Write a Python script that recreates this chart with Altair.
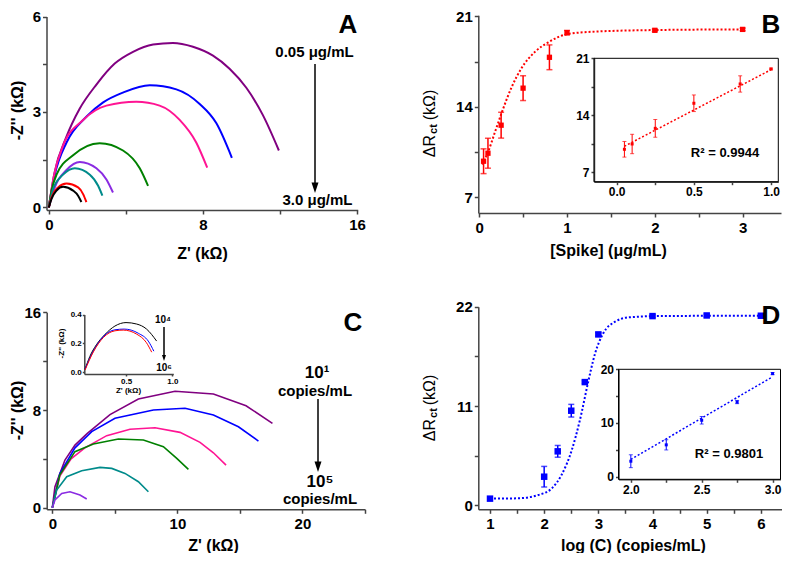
import altair as alt
import pandas as pd

# ================= DATA =================
# Panel A : Nyquist curves, 0.05 -> 3.0 ug/mL (Z' , -Z'' in kOhm)
A_names = ["a1", "a2", "a3", "a4", "a5", "a6", "a7", "a8"]
A_colors = ["#800080", "#0000FF", "#FF1493", "#008000", "#8A2BE2", "#008B8B", "#FF0000", "#000000"]
A1_x = [0, 0.3, 0.9, 1.6, 2.47, 3.42, 4.37, 5.41, 6.44, 7.48, 8.52, 9.38, 10.25, 11.11, 11.94]
A1_y = [0, 1.1, 2.2, 3.1, 3.86, 4.52, 4.89, 5.12, 5.17, 5.05, 4.77, 4.36, 3.76, 2.90, 1.79]
A2_x = [0, 0.3, 0.92, 1.95, 2.82, 3.85, 5.24, 6.62, 7.83, 8.69, 9.5]
A2_y = [0, 1.0, 2.04, 2.85, 3.3, 3.61, 3.84, 3.71, 3.25, 2.65, 1.56]
A3_x = [0, 0.25, 0.74, 1.78, 2.99, 4.54, 5.75, 6.79, 7.65, 8.22]
A3_y = [0, 0.95, 1.94, 2.75, 3.2, 3.32, 3.2, 2.75, 2.04, 1.25]
A4_x = [0, 0.15, 0.4, 1.26, 2.64, 3.85, 4.72, 5.15]
A4_y = [0, 0.55, 1.03, 1.64, 2.02, 1.79, 1.23, 0.68]
A5_x = [0, 0.31, 0.92, 1.61, 2.47, 2.99, 3.33]
A5_y = [0, 0.63, 1.18, 1.43, 1.23, 0.88, 0.47]
A6_x = [0, 0.22, 0.74, 1.35, 2.13, 2.56, 2.78]
A6_y = [0, 0.58, 1.03, 1.23, 1.03, 0.68, 0.37]
A7_x = [0, 0.14, 0.48, 0.92, 1.52, 1.78, 1.95]
A7_y = [0, 0.32, 0.63, 0.75, 0.63, 0.42, 0.17]
A8_x = [0, 0.14, 0.4, 0.74, 1.26, 1.52, 1.69]
A8_y = [0, 0.27, 0.53, 0.65, 0.53, 0.37, 0.17]

# Panel B : delta Rct vs [Spike]
B_x = [0.05, 0.1, 0.25, 0.5, 0.8, 1.0, 2.0, 3.0]
B_y = [9.79, 10.41, 12.58, 15.45, 17.84, 19.75, 19.93, 20.0]
B_err = [0.96, 1.16, 1.0, 0.96, 0.96, 0.17, 0.1, 0.1]
B_fit_x = [0.034, 0.103, 0.179, 0.255, 0.369, 0.483, 0.635, 0.787, 1.0, 1.32, 2.0, 3.0]
B_fit_y = [9.54, 10.54, 12.03, 13.52, 15.52, 17.01, 18.26, 19.0, 19.63, 19.83, 19.95, 20.0]
# Panel B inset (linear range)
Bi_x = [0.05, 0.1, 0.25, 0.5, 0.8, 1.0]
Bi_y = [9.83, 10.48, 12.4, 15.48, 17.85, 19.69]
Bi_err = [0.96, 1.19, 1.09, 1.02, 1.0, 0.1]
Bi_fit_x = [0.05, 1.0]
Bi_fit_y = [10.2, 19.6]

# Panel C : Nyquist curves, 10^1 -> 10^5 copies/mL
C_names = ["c1", "c2", "c3", "c4", "c5", "c6"]
C_colors = ["#800080", "#0000FF", "#FF1493", "#008000", "#008B8B", "#8A2BE2"]
C1_x = [0, 0.21, 1.01, 1.81, 2.8, 4.61, 6.88, 9.81, 12.88, 15.49, 17.6]
C1_y = [0, 1.72, 3.9, 5.13, 6.09, 7.62, 8.9, 9.53, 9.31, 8.35, 6.91]
C2_x = [0, 0.6, 1.81, 3.15, 5.01, 8.08, 10.61, 12.88, 14.88, 16.48]
C2_y = [0, 2.8, 4.9, 6.23, 7.32, 8.0, 8.14, 7.59, 6.63, 5.46]
C3_x = [0, 0.6, 1.5, 2.6, 4.35, 6.21, 8.21, 10.21, 11.81, 12.88, 13.89]
C3_y = [0, 2.6, 4.0, 4.9, 5.9, 6.42, 6.55, 6.17, 5.35, 4.5, 3.49]
C4_x = [0, 0.6, 1.81, 3.28, 5.28, 7.28, 8.88, 9.95, 10.88]
C4_y = [0, 2.7, 4.59, 5.21, 5.62, 5.54, 5.0, 4.04, 3.14]
C5_x = [0, 0.35, 1.15, 2.35, 3.81, 4.75, 5.81, 6.88, 7.68]
C5_y = [0, 1.45, 2.54, 3.03, 3.3, 3.22, 2.81, 2.13, 1.31]
C6_x = [0, 0.21, 0.75, 1.41, 2.21, 2.75]
C6_y = [0, 0.63, 1.17, 1.31, 1.04, 0.71]
# Panel C inset : 10^4 -> 10^6
Ci_names = ["k1", "k2", "k3"]
Ci_colors = ["#000000", "#0000FF", "#FF0000"]
Ci1_x = [0.058, 0.11, 0.18, 0.27, 0.38, 0.5, 0.615, 0.72, 0.83]
Ci1_y = [0.021, 0.11, 0.19, 0.26, 0.32, 0.344, 0.334, 0.30, 0.216]
Ci2_x = [0.058, 0.147, 0.255, 0.38, 0.48, 0.633, 0.74, 0.80]
Ci2_y = [0.021, 0.146, 0.247, 0.294, 0.299, 0.27, 0.216, 0.146]
Ci3_x = [0.058, 0.147, 0.255, 0.38, 0.47, 0.615, 0.72, 0.777]
Ci3_y = [0.015, 0.14, 0.24, 0.287, 0.292, 0.264, 0.205, 0.139]

# Panel D : delta Rct vs log(C)
D_x = [1, 2, 2.25, 2.5, 2.75, 3, 4, 5, 6]
D_y = [0.74, 3.17, 5.98, 10.48, 13.65, 18.93, 20.96, 21.03, 21.0]
D_err = [0.1, 1.14, 0.65, 0.7, 0.15, 0.2, 0.15, 0.15, 0.1]
D_fit_x = [1, 1.52, 1.89, 2.14, 2.32, 2.51, 2.66, 2.82, 2.94, 3.09, 3.31, 3.56, 4.17, 6]
D_fit_y = [0.74, 0.78, 1.14, 1.88, 3.36, 6.13, 9.45, 13.88, 16.83, 19.05, 20.34, 20.82, 20.97, 21.0]
Di_x = [2.0, 2.25, 2.5, 2.75, 3.0]
Di_y = [2.87, 5.92, 10.5, 13.9, 19.2]
Di_err = [1.2, 0.95, 0.7, 0.3, 0.2]
Di_fit_x = [2.0, 3.0]
Di_fit_y = [3.2, 18.6]

# ================= LAYOUT HELPERS =================
OFF = 8
W, H = 774, 545
FONT = "Liberation Sans"
AXC = "#444444"


def cx(p):
    return p - OFF


def cy(p):
    return p - OFF


ONE = pd.DataFrame({"k": [0]})


def curves_df(names, xs, ys):
    rows = []
    for n, xx, yy in zip(names, xs, ys):
        for i, (a, b) in enumerate(zip(xx, yy)):
            rows.append({"s": n, "i": i, "x": a, "y": b})
    return pd.DataFrame(rows)


def pts_df(xs, ys, errs=None):
    d = pd.DataFrame({"x": xs, "y": ys})
    if errs is not None:
        d["lo"] = [y - e for y, e in zip(ys, errs)]
        d["hi"] = [y + e for y, e in zip(ys, errs)]
    return d


def caps_df(xs, ys, errs):
    rows = []
    for a, b, e in zip(xs, ys, errs):
        rows.append({"x": a, "y": b - e})
        rows.append({"x": a, "y": b + e})
    return pd.DataFrame(rows)


def base_axis(**kw):
    d = dict(grid=False, domainColor=AXC, domainWidth=1.5, tickColor=AXC, tickWidth=1.5,
             labelFont=FONT, labelFontWeight="bold", labelColor="black", labelFlush=False,
             labelOverlap=False, titleFont=FONT, titleFontWeight="bold", titleColor="black")
    d.update(kw)
    return alt.Axis(**d)


def x_axis(axis_y, values, expr, fs, pad, tick=4, title="", tpos=None, tfs=16):
    kw = dict(orient="bottom", offset=cy(axis_y) - H, values=values, labelExpr=expr,
              labelFontSize=fs, labelPadding=pad, tickSize=tick, title=title)
    if tpos:
        kw.update(titleX=cx(tpos[0]), titleY=tpos[1] - axis_y, titleAlign="center",
                  titleBaseline="middle", titleFontSize=tfs, titleAnchor="start")
    return base_axis(**kw)


def y_axis(axis_x, values, expr, fs, pad, tick=4, title="", tpos=None, tfs=16):
    kw = dict(orient="left", offset=-cx(axis_x), values=values, labelExpr=expr,
              labelFontSize=fs, labelPadding=pad, tickSize=tick, title=title)
    if tpos:
        kw.update(titleX=tpos[0] - axis_x, titleY=cy(tpos[1]), titleAlign="center",
                  titleBaseline="middle", titleFontSize=tfs, titleAngle=270, titleAnchor="start")
    return base_axis(**kw)


def scale(dom, rng):
    return alt.Scale(domain=dom, range=rng, nice=False, zero=False)


def label(text, x, y, size, weight="bold", angle=0):
    kw = dict(text=text, fontSize=size, fontWeight=weight, font=FONT, align="center",
              baseline="middle", color="black")
    if angle:
        kw["angle"] = angle
    return alt.Chart(ONE).mark_text(**kw).encode(x=alt.value(cx(x)), y=alt.value(cy(y)))


def arrow(x, y0, y1, w=7):
    hl = w * 1.5
    rule = alt.Chart(ONE).mark_rule(color="black", strokeWidth=1.5).encode(
        x=alt.value(cx(x)), y=alt.value(cy(y0)), y2=alt.value(cy(y1 - hl + 1)))
    head = alt.Chart(ONE).mark_point(shape="M-1,-3L1,-3L0,0Z", filled=True, color="black",
                                     opacity=1, size=w * w, strokeWidth=0).encode(
        x=alt.value(cx(x)), y=alt.value(cy(y1)))
    return [rule, head]


def frame(x0, x1, y0, y1):
    return alt.Chart(ONE).mark_rect(fillOpacity=0, stroke="black", strokeWidth=1).encode(
        x=alt.value(cx(x0)), x2=alt.value(cx(x1)), y=alt.value(cy(y0)), y2=alt.value(cy(y1)))


def xy_panel(X, Y, pts, fit, caps, psize, fitw, dash, color, capw, errw):
    fitc = alt.Chart(fit).mark_line(color=color, strokeWidth=fitw, strokeDash=dash,
                                    interpolate="monotone").encode(x=X("x"), y=Y("y"))
    rules = alt.Chart(pts).mark_rule(color=color, strokeWidth=errw).encode(
        x=X("x"), y=Y("lo"), y2=alt.Y2("hi:Q"))
    capc = alt.Chart(caps).mark_tick(color=color, orient="horizontal", size=capw,
                                     thickness=errw).encode(x=X("x"), y=Y("y"))
    pc = alt.Chart(pts).mark_square(color=color, size=psize, opacity=1).encode(x=X("x"), y=Y("y"))
    return alt.layer(fitc, rules, capc, pc)


def enc_factory(chan, sc, ax):
    def f(field):
        return chan(field + ":Q", scale=sc, axis=ax)
    return f


# ================= PANEL A =================
dfA = curves_df(A_names, [A1_x, A2_x, A3_x, A4_x, A5_x, A6_x, A7_x, A8_x],
                [A1_y, A2_y, A3_y, A4_y, A5_y, A6_y, A7_y, A8_y])
A_xs = scale([-0.12, 16.03], [cx(46.5), cx(357.7)])
A_ys = scale([-0.08, 6], [cy(210), cy(16.5)])
A_xa = x_axis(210, [0, 4, 8, 12, 16], "datum.value % 8 == 0 ? datum.value : ''", 15, 3,
              title="Z' (kΩ)", tpos=(202, 253))
A_ya = y_axis(46.5, [0, 1.5, 3, 4.5, 6], "datum.value % 3 == 0 ? datum.value : ''", 15, 2,
              title="-Z'' (kΩ)", tpos=(17, 110))
panelA = alt.Chart(dfA).mark_line(strokeWidth=2, interpolate="monotone").encode(
    x=alt.X("x:Q", scale=A_xs, axis=A_xa),
    y=alt.Y("y:Q", scale=A_ys, axis=A_ya),
    color=alt.Color("s:N", scale=alt.Scale(domain=A_names, range=A_colors), legend=None),
    order="i:Q",
)

# ================= PANEL B =================
B_X = enc_factory(alt.X, scale([-0.01, 3.437], [cx(478.3), cx(781)]),
                  x_axis(213, [0, 0.5, 1, 1.5, 2, 2.5, 3], "datum.value % 1 == 0 ? datum.value : ''",
                         15, 3, title="[Spike] (μg/mL)", tpos=(608, 250)))
B_Y = enc_factory(alt.Y, scale([5.78, 21.1], [cy(213), cy(15.2)]),
                  y_axis(478.3, [7, 10.5, 14, 17.5, 21], "datum.value % 7 == 0 ? datum.value : ''",
                         15, 2))
panelB = xy_panel(B_X, B_Y, pts_df(B_x, B_y, B_err), pts_df(B_fit_x, B_fit_y),
                  caps_df(B_x, B_y, B_err), 28, 2, [2, 2], "#FF0000", 6, 1.5)

Bi_X = enc_factory(alt.X, scale([-0.147, 1.047], [cx(594), cx(778.3)]),
                   x_axis(181.7, [0, 0.25, 0.5, 0.75, 1.0],
                          "datum.value % 0.5 == 0 ? format(datum.value, '.1f') : ''", 12, 2, tick=3))
Bi_Y = enc_factory(alt.Y, scale([5.85, 21], [cy(181.7), cy(58.3)]),
                   y_axis(594, [7, 10.5, 14, 17.5, 21], "datum.value % 7 == 0 ? datum.value : ''",
                          12, 2, tick=3))
panelBi = xy_panel(Bi_X, Bi_Y, pts_df(Bi_x, Bi_y, Bi_err), pts_df(Bi_fit_x, Bi_fit_y),
                   caps_df(Bi_x, Bi_y, Bi_err), 9, 1.5, [2, 2], "#FF0000", 4, 1)

# ================= PANEL C =================
dfC = curves_df(C_names, [C1_x, C2_x, C3_x, C4_x, C5_x, C6_x], [C1_y, C2_y, C3_y, C4_y, C5_y, C6_y])
C_xs = scale([-0.45, 25.0], [cx(46.7), cx(365)])
C_ys = scale([-0.13, 16], [cy(509.3), cy(312.3)])
C_xa = x_axis(509.3, [0, 5, 10, 15, 20, 25], "datum.value % 10 == 0 ? datum.value : ''", 15, 3,
              title="Z' (kΩ)", tpos=(213, 545))
C_ya = y_axis(46.7, [0, 4, 8, 12, 16], "datum.value % 8 == 0 ? datum.value : ''", 15, 2,
              title="-Z'' (kΩ)", tpos=(17, 410))
panelC = alt.Chart(dfC).mark_line(strokeWidth=1.6).encode(
    x=alt.X("x:Q", scale=C_xs, axis=C_xa),
    y=alt.Y("y:Q", scale=C_ys, axis=C_ya),
    color=alt.Color("s:N", scale=alt.Scale(domain=C_names, range=C_colors), legend=None),
    order="i:Q",
)

dfCi = curves_df(Ci_names, [Ci1_x, Ci2_x, Ci3_x], [Ci1_y, Ci2_y, Ci3_y])
Ci_xs = scale([0.05, 1.01], [cx(84.3), cx(173.3)])
Ci_ys = scale([-0.012, 0.4], [cy(374), cy(314.5)])
Ci_xa = x_axis(374, [0.5, 1.0], "format(datum.value, '.1f')", 8, 1, tick=2,
               title="Z' (kΩ)", tpos=(128, 390), tfs=8)
Ci_ya = y_axis(84.3, [0, 0.2, 0.4], "format(datum.value, '.1f')", 8, 1, tick=2,
               title="-Z'' (kΩ)", tpos=(61, 343), tfs=8)
panelCi = alt.Chart(dfCi).mark_line(strokeWidth=1, interpolate="monotone").encode(
    x=alt.X("x:Q", scale=Ci_xs, axis=Ci_xa),
    y=alt.Y("y:Q", scale=Ci_ys, axis=Ci_ya),
    color=alt.Color("s:N", scale=alt.Scale(domain=Ci_names, range=Ci_colors), legend=None),
    order="i:Q",
)

# ================= PANEL D =================
D_X = enc_factory(alt.X, scale([0.784, 6.39], [cx(478.3), cx(782)]),
                  x_axis(509.3, [1, 1.5, 2, 2.5, 3, 3.5, 4, 4.5, 5, 5.5, 6],
                         "datum.value % 1 == 0 ? datum.value : ''", 15, 3,
                         title="log (C) (copies/mL)", tpos=(633, 545)))
D_Y = enc_factory(alt.Y, scale([-0.44, 22], [cy(509.3), cy(306.7)]),
                  y_axis(478.3, [0, 5.5, 11, 16.5, 22], "datum.value % 11 == 0 ? datum.value : ''",
                         15, 2))
panelD = xy_panel(D_X, D_Y, pts_df(D_x, D_y, D_err), pts_df(D_fit_x, D_fit_y),
                  caps_df(D_x, D_y, D_err), 42, 2, [2, 2], "#0000FF", 6, 1.5)

Di_X = enc_factory(alt.X, scale([1.913, 3.056], [cx(618.5), cx(780.5)]),
                   x_axis(479.3, [2.0, 2.25, 2.5, 2.75, 3.0],
                          "datum.value % 0.5 == 0 ? format(datum.value, '.1f') : ''", 12, 2, tick=3))
Di_Y = enc_factory(alt.Y, scale([-0.5, 20], [cy(479.3), cy(369.3)]),
                   y_axis(618.5, [0, 5, 10, 15, 20], "datum.value % 10 == 0 ? datum.value : ''",
                          12, 2, tick=3))
panelDi = xy_panel(Di_X, Di_Y, pts_df(Di_x, Di_y, Di_err), pts_df(Di_fit_x, Di_fit_y),
                   caps_df(Di_x, Di_y, Di_err), 9, 1.5, [2, 2], "#0000FF", 4, 1)

# ================= ANNOTATIONS =================
ann = []
ann += [frame(594, 778.3, 58.3, 181.7), frame(618.5, 780.5, 369.3, 479.3)]
ann += [label("A", 348, 25, 26), label("B", 771, 25, 26), label("C", 353, 323, 26), label("D", 771, 316, 26)]
ann += [label("0.05 μg/mL", 314.5, 52, 15), label("3.0 μg/mL", 317.5, 200, 15)]
ann += arrow(315, 64, 193, 7)
ann += [label("10¹", 317, 373, 17), label("copies/mL", 315, 391, 15),
        label("10⁵", 320, 482, 17), label("copies/mL", 320, 499, 15)]
ann += arrow(318, 399, 472, 7)
ann += [label("10⁴", 163, 320, 10), label("10⁶", 164, 368, 10)]
ann += arrow(164, 327, 361, 4)
ann += [label("R² = 0.9944", 725, 153, 13), label("R² = 0.9801", 729, 454, 13)]
# Delta R_ct axis titles (with subscript)
for (x0, yb, yc, yk) in [(430, 146, 129, 105), (430, 430, 413, 390)]:
    ann += [label("ΔR", x0, yb, 16, weight="normal", angle=270),
            label("ct", x0 + 4, yc, 11, weight="bold", angle=270),
            label("(kΩ)", x0, yk, 16, weight="normal", angle=270)]

chart = alt.layer(panelA, panelB, panelBi, panelC, panelCi, panelD, panelDi, *ann).resolve_scale(
    x="independent", y="independent", color="independent"
).properties(
    width=W, height=H, autosize=alt.AutoSizeParams(type="none"), padding=0
).configure_view(strokeOpacity=0)

chart.save("out.html", embed_options={"renderer": "svg", "actions": False})
